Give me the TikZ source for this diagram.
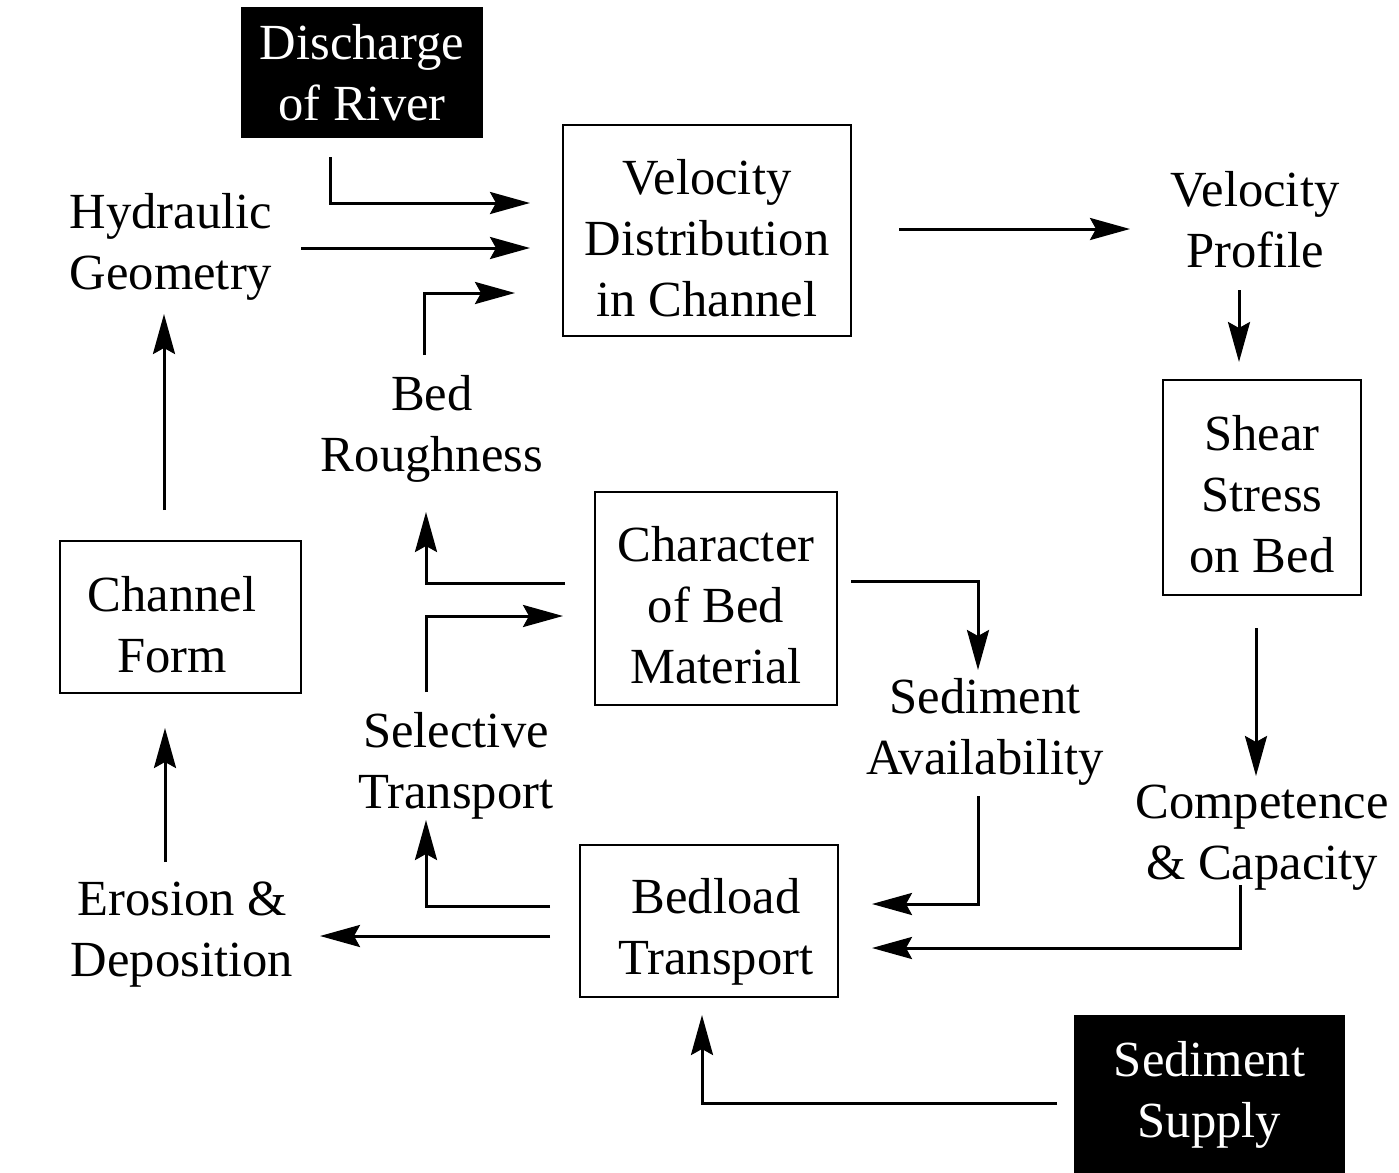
\documentclass[tikz,border=0pt]{standalone}
\usepackage{fontspec}
\setmainfont{Liberation Serif}
\usetikzlibrary{arrows.meta}
\begin{document}
\begin{tikzpicture}[x=0.5pt,y=-0.5pt,
  txt/.style={align=center,font=\fontsize{25.3}{30.5}\selectfont,inner sep=0pt},
  box/.style={draw,line width=1pt,inner sep=0pt},
  dark/.style={txt,fill=black,text=white},
  arr/.style={line width=1.5pt,-{Stealth[length=20pt,width=11pt,inset=3pt]}}]
\useasboundingbox (0,0) rectangle (1399,1173);
% boxes
\node[dark,minimum width=121pt,minimum height=65.5pt] (dis) at (362,72.5) {Discharge\\of River};
\node[box,minimum width=144pt,minimum height=105.5pt] (velbox) at (707,230.5) {};
\node[box,minimum width=99pt,minimum height=107.5pt] (shearbox) at (1262,487.5) {};
\node[box,minimum width=121pt,minimum height=106.5pt] (charbox) at (716,598.5) {};
\node[box,minimum width=120.5pt,minimum height=76pt] (formbox) at (180.5,617) {};
\node[box,minimum width=129pt,minimum height=76pt] (bedbox) at (709,921) {};
\node[dark,minimum width=135.5pt,minimum height=80pt] (sup) at (1209.5,1095) {Sediment\\Supply};
% texts
\node[txt] (vel) at (707,238) {Velocity\\Distribution\\in Channel};
\node[txt] (shear) at (1262,494.5) {Shear\\Stress\\on Bed};
\node[txt] (char) at (716,605.5) {Character\\of Bed\\Material};
\node[txt] (form) at (172,625) {Channel\\Form};
\node[txt] (bed) at (716,932) {Bedload\\Transport};
\node[txt] (hyd) at (171,247) {Hydraulic\\Geometry};
\node[txt] (vp) at (1255,220) {Velocity\\Profile};
\node[txt] (rough) at (432,429) {Bed\\Roughness};
\node[txt] (avail) at (985,732) {Sediment\\Availability};
\node[txt] (sel) at (456,766) {Selective\\Transport};
\node[txt] (comp) at (1262,838) {Competence\\\& Capacity};
\node[txt] (ero) at (182,935) {Erosion \&\\Deposition};
% coordinates
\coordinate (a1) at (330,157); \coordinate (a1e) at (530,203);
\coordinate (a2) at (301,248); \coordinate (a2e) at (530,248);
\coordinate (a3) at (424,355); \coordinate (a3e) at (515,293);
\coordinate (a4) at (899,229); \coordinate (a4e) at (1130,229);
\coordinate (a5) at (1239,290); \coordinate (a5e) at (1239,362);
\coordinate (a6) at (1256,628); \coordinate (a6e) at (1256,776);
\coordinate (a7) at (1240,885); \coordinate (a7e) at (872,948);
\coordinate (a8) at (851,581); \coordinate (a8e) at (978,670);
\coordinate (a9) at (978,796); \coordinate (a9e) at (872,904);
\coordinate (a10) at (565,583); \coordinate (a10e) at (426,512);
\coordinate (a11) at (426,692); \coordinate (a11e) at (563,616);
\coordinate (a12) at (550,906); \coordinate (a12e) at (426,820);
\coordinate (a13) at (550,936); \coordinate (a13e) at (320,936);
\coordinate (a14) at (165,862); \coordinate (a14e) at (165,728);
\coordinate (a15) at (164,510); \coordinate (a15e) at (164,314);
\coordinate (a16) at (1057,1103); \coordinate (a16e) at (702,1015);
% arrows
\draw[arr] (a1) |- (a1e);
\draw[arr] (a2) -- (a2e);
\draw[arr] (a3) |- (a3e);
\draw[arr] (a4) -- (a4e);
\draw[arr] (a5) -- (a5e);
\draw[arr] (a6) -- (a6e);
\draw[arr] (a7) |- (a7e);
\draw[arr] (a8) -| (a8e);
\draw[arr] (a9) |- (a9e);
\draw[arr] (a10) -| (a10e);
\draw[arr] (a11) |- (a11e);
\draw[arr] (a12) -| (a12e);
\draw[arr] (a13) -- (a13e);
\draw[arr] (a14) -- (a14e);
\draw[arr] (a15) -- (a15e);
\draw[arr] (a16) -| (a16e);
\end{tikzpicture}
\end{document}
